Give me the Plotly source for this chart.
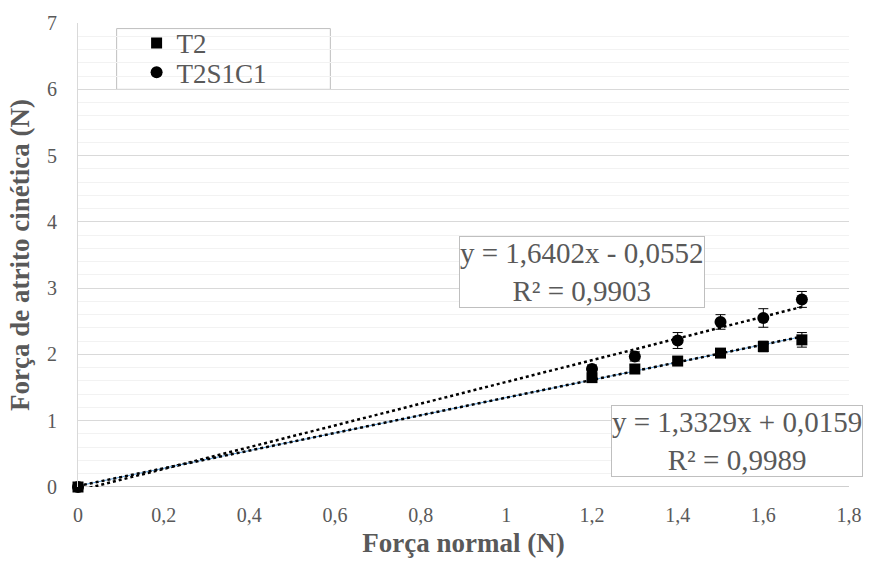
import plotly.graph_objects as go

# Data
x_vals = [0, 1.2, 1.3, 1.4, 1.5, 1.6, 1.69]
t2_y = [0, 1.65, 1.78, 1.90, 2.02, 2.12, 2.22]
t2_err = [0, 0.05, 0.06, 0.06, 0.06, 0.08, 0.11]
t2s_y = [0, 1.78, 1.97, 2.21, 2.49, 2.55, 2.83]
t2s_err = [0, 0.06, 0.07, 0.12, 0.11, 0.14, 0.12]

t2_fit = (1.3329, 0.0159)
t2s_fit = (1.6402, -0.0552)

x_ticks = [0, 0.2, 0.4, 0.6, 0.8, 1, 1.2, 1.4, 1.6, 1.8]
x_ticktext = ["0", "0,2", "0,4", "0,6", "0,8", "1", "1,2", "1,4", "1,6", "1,8"]
y_ticks = [0, 1, 2, 3, 4, 5, 6, 7]

FONT = "Liberation Serif"
GRAY = "#595959"

fig = go.Figure()

x_end = [0, x_vals[-1]]
fig.add_trace(go.Scatter(x=x_end, y=[t2s_fit[0] * v + t2s_fit[1] for v in x_end],
                         mode="lines", line=dict(color="black", width=2.5, dash="dot"),
                         showlegend=False, hoverinfo="skip"))
fig.add_trace(go.Scatter(x=x_end, y=[t2_fit[0] * v + t2_fit[1] for v in x_end],
                         mode="lines", line=dict(color="#5b9bd5", width=1),
                         showlegend=False, hoverinfo="skip"))
fig.add_trace(go.Scatter(x=x_end, y=[t2_fit[0] * v + t2_fit[1] for v in x_end],
                         mode="lines", line=dict(color="black", width=2.5, dash="dot"),
                         showlegend=False, hoverinfo="skip"))

fig.add_trace(go.Scatter(x=x_vals, y=t2s_y, mode="markers", name="T2S1C1", cliponaxis=False,
                         legend="legend2",
                         marker=dict(symbol="circle", size=12, color="black"),
                         error_y=dict(type="data", array=t2s_err, color="black", thickness=1, width=5)))
fig.add_trace(go.Scatter(x=x_vals, y=t2_y, mode="markers", name="T2", cliponaxis=False,
                         legend="legend",
                         marker=dict(symbol="square", size=11, color="black"),
                         error_y=dict(type="data", array=t2_err, color="black", thickness=1, width=5)))

leg_common = dict(xanchor="left", yanchor="middle", borderwidth=0, bgcolor="rgba(0,0,0,0)",
                  font=dict(family=FONT, size=27, color=GRAY), itemwidth=30)

fig.update_layout(
    width=874, height=565,
    margin=dict(l=78, r=17, t=20, b=76),
    paper_bgcolor="white", plot_bgcolor="white",
    font=dict(family=FONT, color=GRAY, size=20),
    showlegend=True,
    legend=dict(x=0.076, y=0.956, **leg_common),
    legend2=dict(x=0.076, y=0.893, **leg_common),
    xaxis=dict(range=[0, 1.8], tickvals=x_ticks, ticktext=x_ticktext,
               showgrid=False, zeroline=False, showline=False,
               ticks="", tickfont=dict(family=FONT, size=20, color=GRAY), ticklabelstandoff=14,
               title=dict(text="<b>Força normal (N)</b>", font=dict(family=FONT, size=27, color=GRAY), standoff=8)),
    yaxis=dict(range=[0, 7], tickvals=y_ticks, showgrid=True, gridcolor="#d9d9d9", gridwidth=1,
               zeroline=False, showline=True, linecolor="#d9d9d9", linewidth=1,
               ticks="", tickfont=dict(family=FONT, size=20, color=GRAY), ticklabelstandoff=16,
               minor=dict(dtick=0.2, showgrid=True, gridcolor="#f2f2f2", gridwidth=1),
               title=dict(text="<b>Força de atrito cinética (N)</b>", font=dict(family=FONT, size=27, color=GRAY), standoff=9)),
)

fig.add_shape(type="line", xref="x", yref="y", x0=0, x1=1.8, y0=0, y1=0,
              line=dict(color="#bfbfbf", width=1.5), layer="below")
fig.add_shape(type="rect", xref="paper", yref="paper", x0=0.0501, x1=0.3273, y0=0.857, y1=0.988,
              line=dict(color="#bfbfbf", width=1), fillcolor="white", layer="below")

fig.add_annotation(x=1.177, y=3.24, xref="x", yref="y",
                   text=f"y = {t2s_fit[0]:.4f}x - {abs(t2s_fit[1]):.4f}".replace(".", ",") + "<br>R² = 0,9903",
                   showarrow=False, font=dict(size=29, color=GRAY, family=FONT),
                   bordercolor="#bfbfbf", borderwidth=1, bgcolor="white", borderpad=0)
fig.add_annotation(x=1.539, y=0.69, xref="x", yref="y",
                   text=f"y = {t2_fit[0]:.4f}x + {t2_fit[1]:.4f}".replace(".", ",") + "<br>R² = 0,9989",
                   showarrow=False, font=dict(size=29, color=GRAY, family=FONT),
                   bordercolor="#bfbfbf", borderwidth=1, bgcolor="white", borderpad=0)

fig.write_html("out.html")
